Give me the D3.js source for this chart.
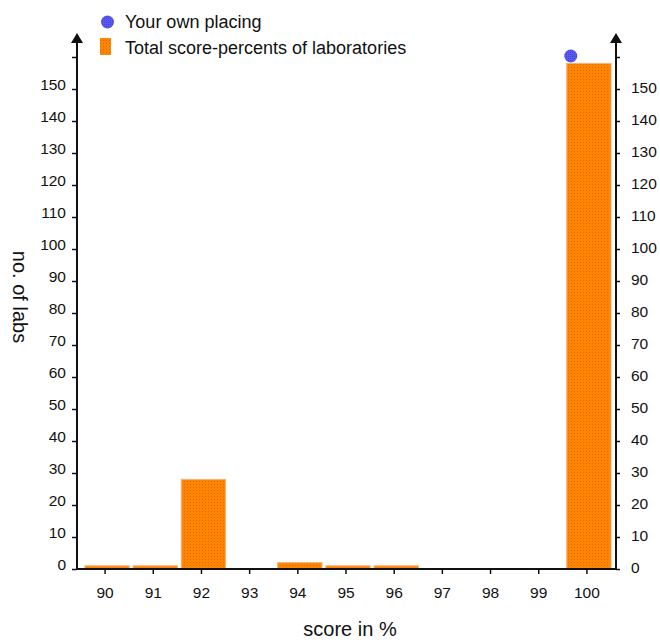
<!DOCTYPE html>
<html>
<head>
<meta charset="utf-8">
<script src="https://cdn.jsdelivr.net/npm/d3@7"></script>
<style>
  body { margin: 0; background: #fff; }
  text { font-family: "Liberation Sans", Arial, sans-serif; fill: #111; }
</style>
</head>
<body>
<svg id="chart" width="660" height="642"></svg>
<script>
const scores = [90, 91, 92, 93, 94, 95, 96, 97, 98, 99, 100]
const labs = [1, 1, 28, 0, 2, 1, 1, 0, 0, 0, 158]
const yTicks = [0, 10, 20, 30, 40, 50, 60, 70, 80, 90, 100, 110, 120, 130, 140, 150]
const ownPlacing = { score: 100, labs: 160 }
const legendItems = ['Your own placing', 'Total score-percents of laboratories']

const svg = d3.select('#chart')
const axLeft = 77
const axRight = 616
const axTop = 33
const base = 569

const x = d3.scaleBand().domain(scores).range([83, 613]).paddingInner(0.08).paddingOuter(0.04)
const y = d3.scaleLinear().domain([0, 160]).range([base, 57])

// Dithered orange fill
const defs = svg.append('defs')
const pat = defs.append('pattern').attr('id', 'dots')
  .attr('width', 3).attr('height', 3).attr('patternUnits', 'userSpaceOnUse')
pat.append('rect').attr('width', 3).attr('height', 3).attr('fill', '#ff8400')
pat.append('rect').attr('x', 1).attr('y', 1).attr('width', 1).attr('height', 1).attr('fill', '#d86a10')

const bluePat = defs.append('pattern').attr('id', 'bdots')
  .attr('width', 2).attr('height', 2).attr('patternUnits', 'userSpaceOnUse')
bluePat.append('rect').attr('width', 2).attr('height', 2).attr('fill', '#5a5af0')
bluePat.append('rect').attr('width', 1).attr('height', 1).attr('fill', '#4444cc')

// Bars
svg.append('g').selectAll('rect')
  .data(scores.map((s, i) => ({ s, v: labs[i] })).filter(d => d.v > 0))
  .enter().append('rect')
    .attr('x', d => x(d.s))
    .attr('y', d => y(d.v))
    .attr('width', x.bandwidth())
    .attr('height', d => base - y(d.v))
    .attr('fill', 'url(#dots)')
    .attr('stroke', '#f3b37a')
    .attr('stroke-width', 1)

// Axes
const axisL = d3.axisLeft(y).tickValues(yTicks.concat([160])).tickSize(5)
  .tickFormat(d => '')
const gL = svg.append('g').attr('transform', `translate(${axLeft},0)`).call(axisL)
const axisR = d3.axisRight(y).tickValues(yTicks.concat([160])).tickSize(4)
  .tickFormat(d => '')
const gR = svg.append('g').attr('transform', `translate(${axRight},0)`).call(axisR)
;[gL, gR].forEach(g => {
  g.select('.domain').remove()
  g.selectAll('line').attr('stroke', '#111').attr('stroke-width', 1.5)
})

// Tick labels (left ones sit a little above their ticks)
svg.append('g').selectAll('text').data(yTicks).enter().append('text')
  .attr('x', 66).attr('y', d => y(d) + 1)
  .attr('text-anchor', 'end').attr('font-size', 15.5)
  .text(d => d)
svg.append('g').selectAll('text').data(yTicks).enter().append('text')
  .attr('x', 631).attr('y', d => y(d) + 4)
  .attr('text-anchor', 'start').attr('font-size', 15.5)
  .text(d => d)

// Vertical axis lines with arrows
;[axLeft, axRight].forEach(ax => {
  svg.append('line').attr('x1', ax).attr('x2', ax).attr('y1', axTop + 6).attr('y2', base)
    .attr('stroke', '#111').attr('stroke-width', 2)
  svg.append('path')
    .attr('d', `M${ax},${axTop} L${ax - 6},${axTop + 10} L${ax + 6},${axTop + 10} Z`)
    .attr('fill', '#111')
})

// X axis
const axisB = d3.axisBottom(x).tickSize(5).tickSizeOuter(0)
const gB = svg.append('g').attr('transform', `translate(-2,${base})`).call(axisB)
gB.select('.domain').remove()
gB.selectAll('line').attr('stroke', '#111').attr('stroke-width', 1.5)
gB.selectAll('text').attr('font-size', 15.5).attr('y', 29).attr('dy', 0)
  .attr('font-family', '"Liberation Sans", Arial, sans-serif').attr('fill', '#111')
svg.append('line').attr('x1', axLeft).attr('x2', axRight).attr('y1', base).attr('y2', base)
  .attr('stroke', '#111').attr('stroke-width', 2)

// Own placing dot
svg.append('circle')
  .attr('cx', x(ownPlacing.score) + 4)
  .attr('cy', y(ownPlacing.labs) - 1)
  .attr('r', 6.5)
  .attr('fill', 'url(#bdots)')

// Legend
const leg = svg.append('g')
leg.append('circle').attr('cx', 107.5).attr('cy', 22).attr('r', 6.5).attr('fill', 'url(#bdots)')
leg.append('rect').attr('x', 100).attr('y', 38).attr('width', 11).attr('height', 17)
  .attr('fill', 'url(#dots)')
leg.selectAll('text').data(legendItems).enter().append('text')
  .attr('x', 125).attr('y', (d, i) => 28 + i * 26)
  .attr('font-size', 18)
  .text(d => d)

// Axis titles
svg.append('text').attr('transform', 'translate(13,297) rotate(90)')
  .attr('text-anchor', 'middle').attr('font-size', 20).text('no. of labs')
svg.append('text').attr('x', 350).attr('y', 636)
  .attr('text-anchor', 'middle').attr('font-size', 20).text('score in %')
</script>
</body>
</html>
